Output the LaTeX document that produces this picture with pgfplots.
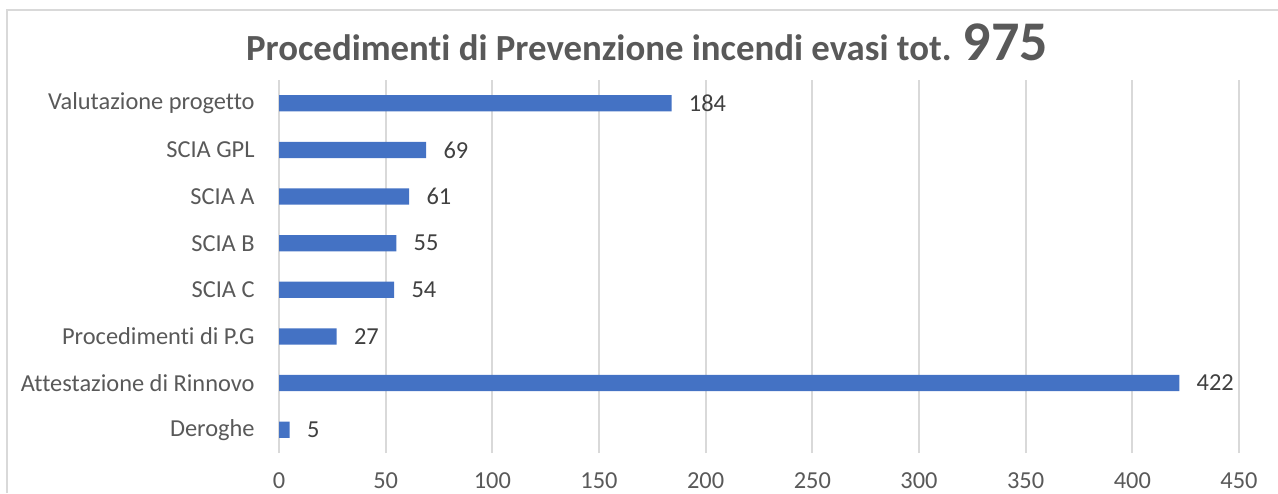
\documentclass[border=0pt]{standalone}
\usepackage{pgfplots}
\pgfplotsset{compat=1.18}
\usepackage{fontspec}
\setmainfont{Carlito}[RawFeature={-liga}]
\definecolor{barblue}{HTML}{4472C4}
\definecolor{txtgray}{HTML}{595959}
\definecolor{lblgray}{HTML}{404040}
\definecolor{gridgray}{HTML}{D9D9D9}
\begin{document}
\begin{tikzpicture}
\begin{axis}[
  at={(139.5pt,-40pt)}, anchor=north west,
  scale only axis, width=480pt, height=186.5pt,
  xbar, bar width=0.35,
  xmin=0, xmax=450, ymin=-0.5, ymax=7.5,
  xtick={0,50,...,450},
  ytick={0,...,7},
  yticklabels={Deroghe,Attestazione di Rinnovo,Procedimenti di P.G,SCIA C,SCIA B,SCIA A,SCIA GPL,Valutazione progetto},
  xmajorgrids, ymajorgrids=false,
  grid style={gridgray, line width=0.9pt},
  axis line style={draw=none},
  major tick length=0pt,
  /pgf/number format/assume math mode=true,
  tick label style={font=\fontsize{12.2pt}{14pt}\selectfont, text=txtgray, inner sep=0pt},
  yticklabel style={anchor=east, xshift=-12pt},
  xticklabel style={anchor=center, yshift=-13.8pt},
  nodes near coords,
  every node near coord/.append style={font=\fontsize{12.2pt}{14pt}\selectfont, text=lblgray, inner sep=0pt, anchor=west, xshift=8.5pt},
]
\addplot[fill=barblue, draw=none] coordinates {
  (5,0) (422,1) (27,2) (54,3) (55,4) (61,5) (69,6) (184,7)
};
\end{axis}
\node[text=txtgray, font=\bfseries\fontsize{18.4pt}{20pt}\selectfont, anchor=base] at (323.5pt,-30pt) {Procedimenti di Prevenzione incendi evasi tot. {\fontsize{28pt}{30pt}\selectfont 975}};
\draw[gridgray, line width=1pt] (3.25pt,-246.5pt) -- (3.25pt,-4.75pt) -- (639pt,-4.75pt);
\pgfresetboundingbox
\useasboundingbox (0,0) rectangle (639pt,-246.5pt);
\end{tikzpicture}
\end{document}
